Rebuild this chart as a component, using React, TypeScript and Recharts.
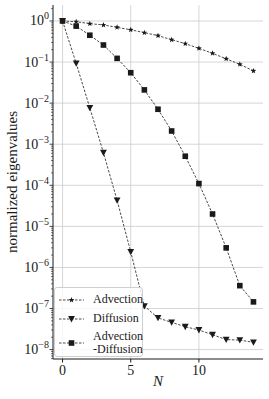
import React from 'react';
import { LineChart, Line, XAxis, YAxis, CartesianGrid, Legend, Label } from 'recharts';

const N = [0, 1, 2, 3, 4, 5, 6, 7, 8, 9, 10, 11, 12, 13, 14];
const advection = [1, 0.96, 0.86, 0.8, 0.7, 0.61, 0.52, 0.44, 0.35, 0.28, 0.216, 0.163, 0.12, 0.088, 0.061];
const diffusion = [1, 0.093, 0.0077, 6.2e-4, 4.3e-5, 2.4e-6, 1.15e-7, 5.9e-8, 4.6e-8, 3.6e-8, 3.0e-8, 2.3e-8, 1.75e-8, 1.7e-8, 1.5e-8];
const advDiff = [1, 0.75, 0.45, 0.26, 0.123, 0.055, 0.021, 0.0071, 0.0021, 5.1e-4, 1.1e-4, 2.0e-5, 3.0e-6, 3.6e-7, 1.45e-7];

const xTicks = [0, 5, 10];
const yMajorTicks = [1, 1e-1, 1e-2, 1e-3, 1e-4, 1e-5, 1e-6, 1e-7, 1e-8];
const yMajorLabels = ['0', '\u22121', '\u22122', '\u22123', '\u22124', '\u22125', '\u22126', '\u22127', '\u22128'];
const yDomain = [5.9e-9, 2.45];

const minorMultipliers = [2, 3, 4, 5, 6, 7, 8, 9];
const yMinorTicks: number[] = [];
[1e-9, ...yMajorTicks].forEach((d) => {
  minorMultipliers.forEach((m) => {
    const v = d * m;
    if (v >= yDomain[0] && v <= yDomain[1]) yMinorTicks.push(v);
  });
});
const yAllTicks = [...yMajorTicks, ...yMinorTicks].sort((a, b) => a - b);

const data = N.map((n, i) => ({ N: n, adv: advection[i], dif: diffusion[i], ad: advDiff[i] }));

const FONT = '"Liberation Serif", "Times New Roman", serif';
const INK = '#1a1a1a';

function Star({ cx, cy, r = 3 }: { cx: number; cy: number; r?: number }) {
  const pts: string[] = [];
  for (let k = 0; k < 10; k++) {
    const rad = k % 2 === 0 ? r : r * 0.42;
    const a = -Math.PI / 2 + (k * Math.PI) / 5;
    pts.push(`${cx + rad * Math.cos(a)},${cy + rad * Math.sin(a)}`);
  }
  return <polygon points={pts.join(' ')} fill={INK} />;
}
function TriDown({ cx, cy, s = 3.4 }: { cx: number; cy: number; s?: number }) {
  return <polygon points={`${cx - s},${cy - s * 0.85} ${cx + s},${cy - s * 0.85} ${cx},${cy + s}`} fill={INK} />;
}
function Square({ cx, cy, s = 2.8 }: { cx: number; cy: number; s?: number }) {
  return <rect x={cx - s} y={cy - s} width={2 * s} height={2 * s} fill={INK} />;
}

const YTick = (props: any) => {
  const { x, y, payload } = props;
  const idx = yMajorTicks.findIndex((v) => Math.abs(Math.log10(v) - Math.log10(payload.value)) < 1e-6);
  if (idx < 0) {
    return <line x1={x - 2} x2={x} y1={y} y2={y} stroke={INK} strokeWidth={0.6} />;
  }
  return (
    <g>
      <line x1={x - 3.5} x2={x} y1={y} y2={y} stroke={INK} strokeWidth={0.8} />
      <text x={x - 4} y={y + 4.5} textAnchor="end" fontFamily={FONT} fontSize={14} fill={INK}>
        10
        <tspan dy={-6} fontSize={10}>{yMajorLabels[idx]}</tspan>
      </text>
    </g>
  );
};

const LegendRow = ({ kind }: { kind: string }) => (
  <svg width={30} height={10} style={{ display: 'block' }}>
    <line x1={4} x2={29} y1={5} y2={5} stroke={INK} strokeWidth={0.8} strokeDasharray="2.5 1.5" />
    {kind === 'star' && <Star cx={16.5} cy={5} />}
    {kind === 'tri' && <TriDown cx={16.5} cy={5} />}
    {kind === 'sq' && <Square cx={16.5} cy={5} />}
  </svg>
);

const LegendBox = () => (
  <div
    style={{
      position: 'relative',
      width: 89,
      height: 70,
      border: '1px solid #cfcfcf',
      borderRadius: 3,
      background: 'rgba(255,255,255,0.8)',
      fontFamily: FONT,
      fontSize: 12,
      color: INK,
      boxSizing: 'border-box',
    }}
  >
    <div style={{ position: 'absolute', left: 0, top: 6.5 }}><LegendRow kind="star" /></div>
    <div style={{ position: 'absolute', left: 38, top: 4, lineHeight: '14px' }}>Advection</div>
    <div style={{ position: 'absolute', left: 0, top: 25.5 }}><LegendRow kind="tri" /></div>
    <div style={{ position: 'absolute', left: 38, top: 23, lineHeight: '14px' }}>Diffusion</div>
    <div style={{ position: 'absolute', left: 0, top: 49.8 }}><LegendRow kind="sq" /></div>
    <div style={{ position: 'absolute', left: 38, top: 42, lineHeight: '13.4px' }}>Advection<br />-Diffusion</div>
  </div>
);

export default function App() {
  return (
    <div style={{ position: 'absolute', left: 0, top: 0, width: 269, height: 399, background: '#fff' }}>
      <LineChart width={269} height={399} data={data} margin={{ top: 5, right: 6, bottom: 0, left: 0 }}>
        <CartesianGrid
          stroke="#cccccc"
          strokeWidth={0.8}
          horizontalValues={yMajorTicks}
          verticalValues={xTicks}
        />
        <XAxis
          dataKey="N"
          type="number"
          domain={[-0.7, 14.7]}
          ticks={xTicks}
          allowDataOverflow
          height={40}
          tickSize={3.5}
          tickMargin={3}
          interval={0}
          stroke={INK}
          tick={{ fontFamily: FONT, fontSize: 14, fill: INK }}
        >
          <Label
            content={(p: any) => {
              const vb = p.viewBox;
              return (
                <text x={vb.x + vb.width / 2} y={vb.y + 27} textAnchor="middle" fontFamily={FONT} fontStyle="italic" fontSize={15} fill={INK}>
                  N
                </text>
              );
            }}
          />
        </XAxis>
        <XAxis xAxisId="top" orientation="top" dataKey="N" type="number" domain={[-0.7, 14.7]} height={0} tick={false} tickLine={false} stroke={INK} />
        <YAxis
          scale="log"
          type="number"
          domain={yDomain}
          allowDataOverflow
          ticks={yAllTicks}
          interval={0}
          width={53}
          tickLine={false}
          tickSize={0}
          tickMargin={0}
          stroke={INK}
          tick={<YTick />}
        >
          <Label
            content={(p: any) => {
              const vb = p.viewBox;
              const cy = vb.y + vb.height / 2;
              return (
                <text x={12} y={cy} transform={`rotate(-90 12 ${cy})`} textAnchor="middle" dominantBaseline="central" fontFamily={FONT} fontSize={15} fill={INK}>
                  normalized eigenvalues
                </text>
              );
            }}
          />
        </YAxis>
        <YAxis yAxisId="right" orientation="right" scale="log" domain={yDomain} allowDataOverflow width={0} tick={false} tickLine={false} stroke={INK} />
        <Line
          dataKey="adv"
          stroke={INK}
          strokeWidth={0.8}
          strokeDasharray="2.5 1.5"
          isAnimationActive={false}
          dot={(p: any) => <Star key={`s${p.index}`} cx={p.cx} cy={p.cy} />}
        />
        <Line
          dataKey="dif"
          stroke={INK}
          strokeWidth={0.8}
          strokeDasharray="2.5 1.5"
          isAnimationActive={false}
          dot={(p: any) => <TriDown key={`t${p.index}`} cx={p.cx} cy={p.cy} />}
        />
        <Line
          dataKey="ad"
          stroke={INK}
          strokeWidth={0.8}
          strokeDasharray="2.5 1.5"
          isAnimationActive={false}
          dot={(p: any) => <Square key={`q${p.index}`} cx={p.cx} cy={p.cy} />}
        />
        <Legend
          layout="horizontal"
          verticalAlign="middle"
          align="center"
          wrapperStyle={{ position: 'absolute', left: 54, top: 287, width: 89, height: 70 }}
          content={() => <LegendBox />}
        />
      </LineChart>
    </div>
  );
}
